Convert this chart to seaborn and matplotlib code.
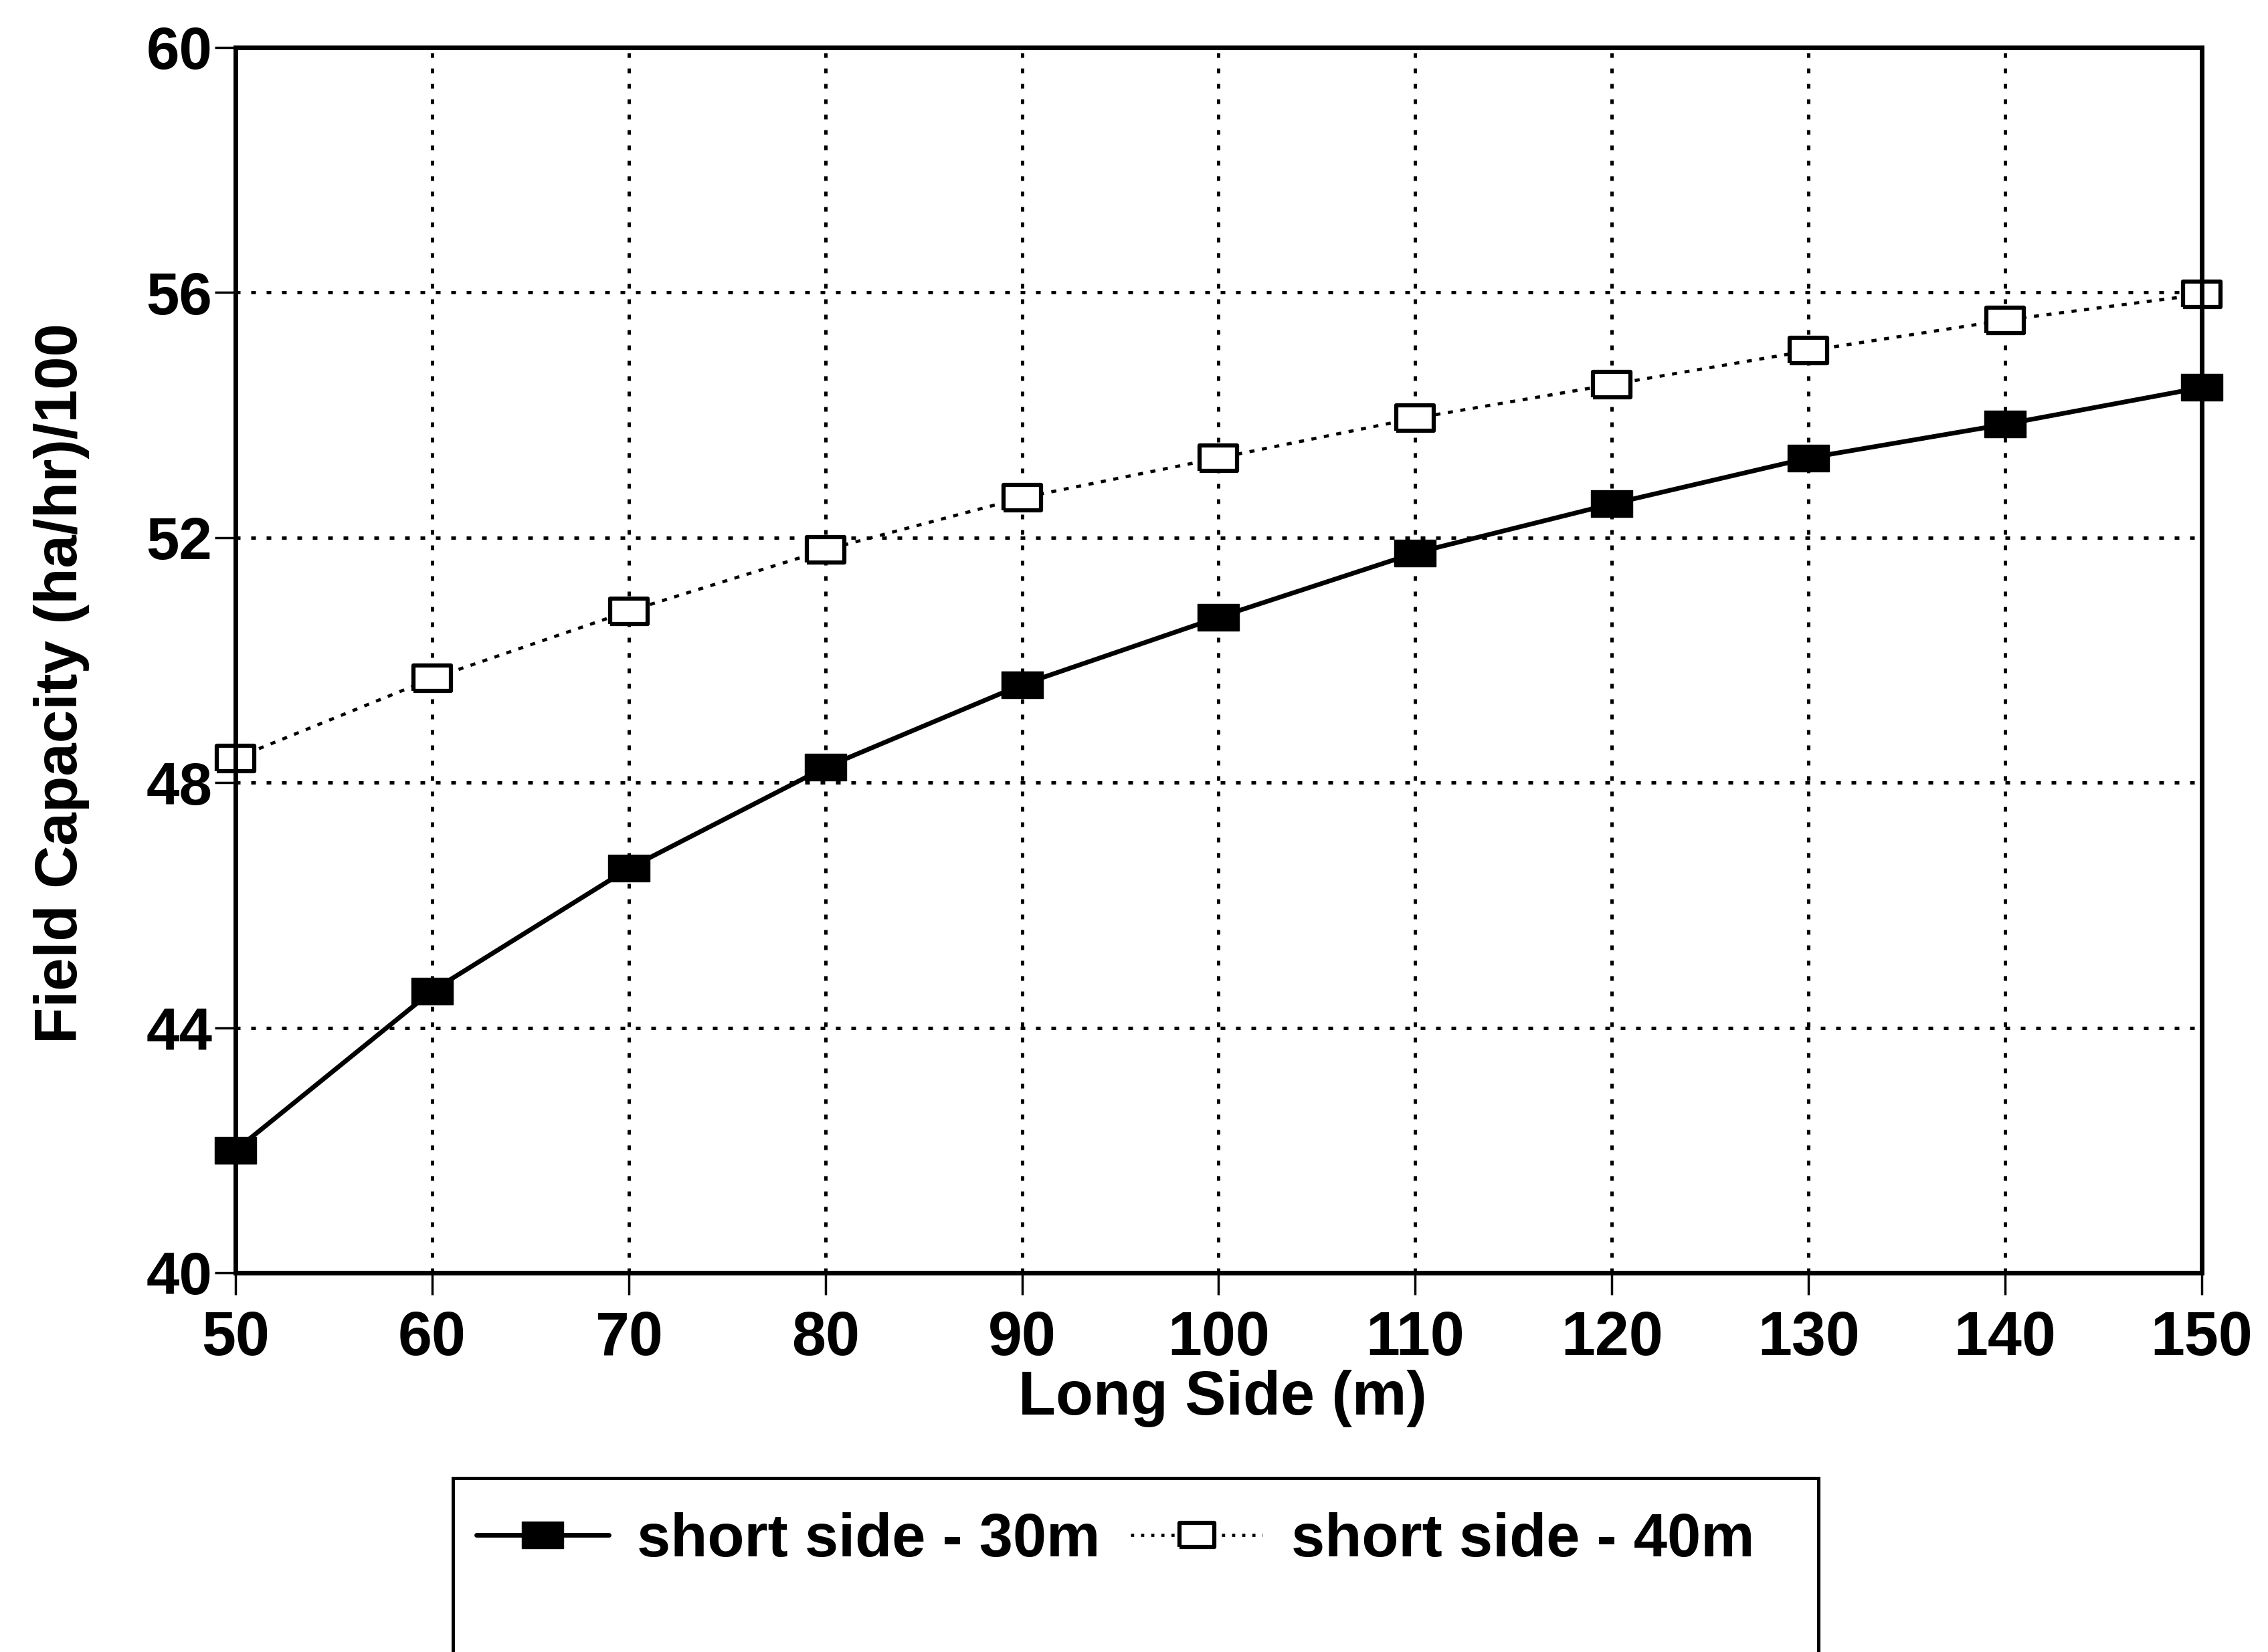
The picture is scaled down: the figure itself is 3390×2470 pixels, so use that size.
import matplotlib
matplotlib.use("Agg")
import matplotlib.pyplot as plt
import seaborn as sns
import pandas as pd
from matplotlib.lines import Line2D
from matplotlib.patches import Rectangle

# ---- data ----
long_side = [50, 60, 70, 80, 90, 100, 110, 120, 130, 140, 150]
short_30 = [42.0, 44.6, 46.6, 48.25, 49.6, 50.7, 51.75, 52.55, 53.3, 53.85, 54.45]
short_40 = [48.4, 49.7, 50.8, 51.8, 52.65, 53.3, 53.95, 54.5, 55.05, 55.55, 55.97]
series_names = ["short side - 30m", "short side - 40m"]
x_ticks = [50, 60, 70, 80, 90, 100, 110, 120, 130, 140, 150]
y_ticks = [40, 44, 48, 52, 56, 60]
x_label = "Long Side (m)"
y_label = "Field Capacity (ha/hr)/100"

sns.set_style("ticks")
plt.rcParams["font.family"] = ["Liberation Sans", "DejaVu Sans"]
plt.rcParams["font.weight"] = "bold"
plt.rcParams["text.color"] = "black"
plt.rcParams["axes.labelcolor"] = "black"
plt.rcParams["xtick.color"] = "black"
plt.rcParams["ytick.color"] = "black"

fig = plt.figure(figsize=(33.91, 24.70), dpi=100)
ax = fig.add_axes([352 / 3391, 1 - 1903 / 2470, (3291 - 352) / 3391, (1903 - 71) / 2470])

df30 = pd.DataFrame({"x": long_side, "y": short_30})
df40 = pd.DataFrame({"x": long_side, "y": short_40})

rect_marker = [(-3, -2), (3, -2), (3, 2), (-3, 2), (-3, -2)]

ax.set_axisbelow(True)
ax.grid(True, color="black", linestyle=(0, (1.4, 3.2)), linewidth=3.6)

sns.lineplot(data=df40, x="x", y="y", ax=ax, color="black", linewidth=3.4,
             linestyle=(0, (1.6, 2.4)), marker=rect_marker, markersize=40,
             markerfacecolor="white", markeredgecolor="black", markeredgewidth=4.5,
             zorder=3, clip_on=False)
sns.lineplot(data=df30, x="x", y="y", ax=ax, color="black", linewidth=5,
             marker=rect_marker, markersize=44, markerfacecolor="black",
             markeredgecolor="black", markeredgewidth=1, zorder=4, clip_on=False)

ax.set_xlim(50, 150)
ax.set_ylim(40, 60)
ax.set_xticks(x_ticks)
ax.set_yticks(y_ticks)
ax.set_xticklabels([str(v) for v in x_ticks], fontsize=66, fontweight="bold", color="black")
ax.set_yticklabels([str(v) for v in y_ticks], fontsize=64, fontweight="bold", color="black")
ax.tick_params(axis="x", direction="out", length=24, width=2.5, pad=16, color="black")
ax.tick_params(axis="y", direction="out", length=22, width=2.5, pad=3, color="black")

for s in ax.spines.values():
    s.set_visible(True)
    s.set_color("black")
    s.set_linewidth(5)
    s.set_zorder(5)

ax.set_xlabel(x_label, fontsize=66, fontweight="bold", color="black")
ax.set_ylabel(y_label, fontsize=64, fontweight="bold", color="black")
ax.xaxis.set_label_coords(0.502, -0.1157)
ax.xaxis.label.set_va("baseline")
ax.yaxis.set_label_coords(-0.0885, 0.4814)
ax.yaxis.label.set_va("center")

if ax.get_legend() is not None:
    ax.get_legend().remove()

handles = [
    Line2D([], [], color="black", linewidth=5, marker=rect_marker, markersize=44,
           markerfacecolor="black", markeredgecolor="black"),
    Line2D([], [], color="black", linewidth=3.4, linestyle=(0, (1.0, 2.2)),
           marker=rect_marker, markersize=38, markerfacecolor="white",
           markeredgecolor="black", markeredgewidth=4.5),
]
leg = fig.legend(handles, series_names, loc="center left",
                 bbox_to_anchor=(712 / 3391, 1 - 2303 / 2470), ncol=2, frameon=False,
                 prop={"size": 65, "weight": "bold"}, handlelength=2.19,
                 handletextpad=0.47, columnspacing=0.5, borderpad=0, borderaxespad=0)
for t in leg.get_texts():
    t.set_color("black")

fig.patches.append(Rectangle((677 / 3391, -0.2), (2718 - 677) / 3391, 0.2 + (1 - 2210 / 2470),
                             transform=fig.transFigure, fill=False, edgecolor="black",
                             linewidth=3.6, clip_on=False))

fig.savefig("out.png", dpi=100, facecolor="white")
